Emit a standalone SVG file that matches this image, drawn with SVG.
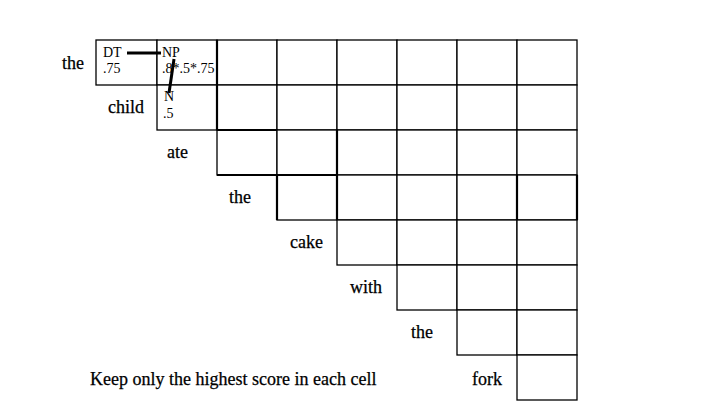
<svg xmlns="http://www.w3.org/2000/svg" width="720" height="405" viewBox="0 0 720 405">
<style>
.c{fill:#fff;stroke:#000;stroke-width:1.3}
.t{stroke:#000;stroke-width:2.2;fill:none}
.w{font-family:"Liberation Serif","Times New Roman",serif;font-size:18px;fill:#000;stroke:#000;stroke-width:0.25}
.s{font-family:"Liberation Serif","Times New Roman",serif;font-size:14px;fill:#000}
.k{stroke:#000;stroke-width:3;fill:none}
</style>
<rect width="720" height="405" fill="#fff"/>
<g id="grid">
<rect class="c" x="96" y="40" width="61" height="45"/>
<rect class="c" x="157" y="40" width="60" height="45"/>
<rect class="c" x="217" y="40" width="60" height="45"/>
<rect class="c" x="277" y="40" width="60" height="45"/>
<rect class="c" x="337" y="40" width="60" height="45"/>
<rect class="c" x="397" y="40" width="60" height="45"/>
<rect class="c" x="457" y="40" width="60" height="45"/>
<rect class="c" x="517" y="40" width="60" height="45"/>
<rect class="c" x="157" y="85" width="60" height="45"/>
<rect class="c" x="217" y="85" width="60" height="45"/>
<rect class="c" x="277" y="85" width="60" height="45"/>
<rect class="c" x="337" y="85" width="60" height="45"/>
<rect class="c" x="397" y="85" width="60" height="45"/>
<rect class="c" x="457" y="85" width="60" height="45"/>
<rect class="c" x="517" y="85" width="60" height="45"/>
<rect class="c" x="217" y="130" width="60" height="45"/>
<rect class="c" x="277" y="130" width="60" height="45"/>
<rect class="c" x="337" y="130" width="60" height="45"/>
<rect class="c" x="397" y="130" width="60" height="45"/>
<rect class="c" x="457" y="130" width="60" height="45"/>
<rect class="c" x="517" y="130" width="60" height="45"/>
<rect class="c" x="277" y="175" width="60" height="45"/>
<rect class="c" x="337" y="175" width="60" height="45"/>
<rect class="c" x="397" y="175" width="60" height="45"/>
<rect class="c" x="457" y="175" width="60" height="45"/>
<rect class="c" x="517" y="175" width="60" height="45"/>
<rect class="c" x="337" y="220" width="60" height="45"/>
<rect class="c" x="397" y="220" width="60" height="45"/>
<rect class="c" x="457" y="220" width="60" height="45"/>
<rect class="c" x="517" y="220" width="60" height="45"/>
<rect class="c" x="397" y="265" width="60" height="45"/>
<rect class="c" x="457" y="265" width="60" height="45"/>
<rect class="c" x="517" y="265" width="60" height="45"/>
<rect class="c" x="457" y="310" width="60" height="45"/>
<rect class="c" x="517" y="310" width="60" height="45"/>
<rect class="c" x="517" y="355" width="60" height="45"/>
<path class="t" d="M217 40V130M217 130H277M217 175H337M337 130V220M277 175V220M517 175V220M577 175V220"/>
</g>
<g id="cell-text">
<text class="s" x="103" y="57">DT</text>
<text class="s" x="103" y="73">.75</text>
<text class="s" x="162" y="57">NP</text>
<text class="s" x="162" y="73">.8*.5*.75</text>
<text class="s" x="164" y="101">N</text>
<text class="s" x="163" y="118">.5</text>
</g>
<g id="connectors">
<line class="k" x1="127" y1="53" x2="161" y2="53"/>
<line class="k" x1="174" y1="59" x2="169" y2="93"/>
</g>
<g id="words">
<text class="w" x="62" y="69">the</text>
<text class="w" x="108" y="113">child</text>
<text class="w" x="167" y="158">ate</text>
<text class="w" x="229" y="203">the</text>
<text class="w" x="290" y="248">cake</text>
<text class="w" x="350" y="293">with</text>
<text class="w" x="411" y="338">the</text>
<text class="w" x="472" y="385">fork</text>
<text class="w" x="90" y="385">Keep only the highest score in each cell</text>
</g>
</svg>
